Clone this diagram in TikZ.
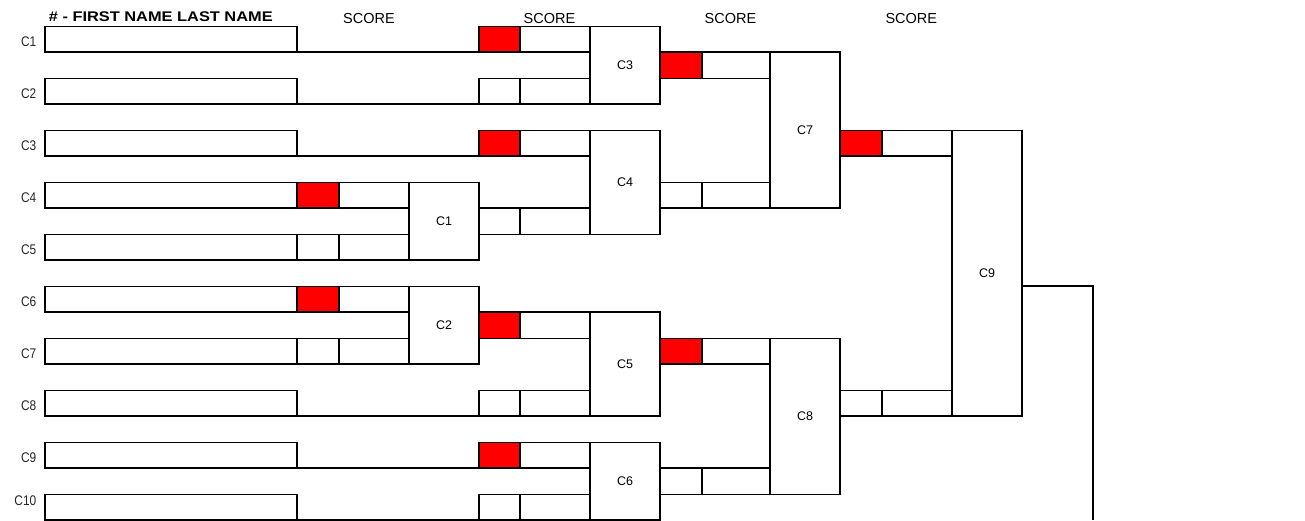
\documentclass[tikz,border=0pt]{standalone}
\usepackage{fontspec}
\setmainfont{Liberation Sans}
\newfontfamily\narrowsans[FakeStretch=0.85]{Liberation Sans}
\newfontfamily\widesans[FakeStretch=1.17]{Liberation Sans}
\tikzset{
  cell/.style={draw, line width=1.2pt, inner sep=0pt, outer sep=0pt, anchor=north west, fill=white},
  win/.style={cell, fill=red},
  match/.style={cell, font=\fontsize{12.5}{14}\selectfont},
  scoreline/.style={line width=2pt},
  outline/.style={line width=2pt},
  hdr/.style={anchor=base, font=\fontsize{14.5}{16}\selectfont},
  hdrb/.style={anchor=base, font=\widesans\bfseries\fontsize{14}{16}\selectfont},
  rowlab/.style={anchor=base east, inner sep=0pt, text=black!85, font=\narrowsans\fontsize{14}{16}\selectfont},
}
% style, name, x1, y1, x2, y2, text
\newcommand\cellnode[7]{%
  \node[#1, minimum width={(#5-#3)*1pt}, minimum height={(#6-#4)*1pt}] (#2) at (#3,#4) {#7};}
\begin{document}
\begin{tikzpicture}[x=1pt,y=-1pt]
\useasboundingbox (0,0) rectangle (1305,520);

% headers
\node[hdrb] (h0) at (160.8,21.7) {\# - FIRST NAME LAST NAME};
\node[hdr] (h1) at (369,23.3) {SCORE};
\node[hdr] (h2) at (549.5,23.3) {SCORE};
\node[hdr] (h3) at (730.4,23.3) {SCORE};
\node[hdr] (h4) at (911.3,23.3) {SCORE};

% row labels
\node[rowlab] (l1) at (36.5,46.7) {C1};
\node[rowlab] (l2) at (36.5,98.7) {C2};
\node[rowlab] (l3) at (36.5,150.7) {C3};
\node[rowlab] (l4) at (36.5,202.7) {C4};
\node[rowlab] (l5) at (36.5,254.7) {C5};
\node[rowlab] (l6) at (36.5,306.7) {C6};
\node[rowlab] (l7) at (36.5,358.7) {C7};
\node[rowlab] (l8) at (36.5,410.7) {C8};
\node[rowlab] (l9) at (36.5,462.7) {C9};
\node[rowlab] (l10) at (36.5,505) {C10};

% name boxes
\cellnode{cell}{n1}{45}{26.5}{297}{52}{}
\cellnode{cell}{n2}{45}{78.5}{297}{104}{}
\cellnode{cell}{n3}{45}{130.5}{297}{156}{}
\cellnode{cell}{n4}{45}{182.5}{297}{208}{}
\cellnode{cell}{n5}{45}{234.5}{297}{260}{}
\cellnode{cell}{n6}{45}{286.5}{297}{312}{}
\cellnode{cell}{n7}{45}{338.5}{297}{364}{}
\cellnode{cell}{n8}{45}{390.5}{297}{416}{}
\cellnode{cell}{n9}{45}{442.5}{297}{468}{}
\cellnode{cell}{n10}{45}{494.5}{297}{520}{}

% round 1
\cellnode{win}{r1a}{297}{182.5}{339}{208}{}
\cellnode{cell}{r1aw}{339}{182.5}{409}{208}{}
\cellnode{cell}{r1b}{297}{234.5}{339}{260}{}
\cellnode{cell}{r1bw}{339}{234.5}{409}{260}{}
\cellnode{match}{m1}{409}{182.5}{479}{260}{C1}

\cellnode{win}{r2a}{297}{286.5}{339}{312}{}
\cellnode{cell}{r2aw}{339}{286.5}{409}{312}{}
\cellnode{cell}{r2b}{297}{338.5}{339}{364}{}
\cellnode{cell}{r2bw}{339}{338.5}{409}{364}{}
\cellnode{match}{m2}{409}{286.5}{479}{364}{C2}

% round 2
\cellnode{win}{s3a}{479}{26.5}{520}{52}{}
\cellnode{cell}{s3aw}{520}{26.5}{590}{52}{}
\cellnode{cell}{s3b}{479}{78.5}{520}{104}{}
\cellnode{cell}{s3bw}{520}{78.5}{590}{104}{}
\cellnode{match}{m3}{590}{26.5}{660}{104}{C3}

\cellnode{win}{s4a}{479}{130.5}{520}{156}{}
\cellnode{cell}{s4aw}{520}{130.5}{590}{156}{}
\cellnode{cell}{s4b}{479}{208}{520}{234.5}{}
\cellnode{cell}{s4bw}{520}{208}{590}{234.5}{}
\cellnode{match}{m4}{590}{130.5}{660}{234.5}{C4}

\cellnode{win}{s5a}{479}{312}{520}{338.5}{}
\cellnode{cell}{s5aw}{520}{312}{590}{338.5}{}
\cellnode{cell}{s5b}{479}{390.5}{520}{416}{}
\cellnode{cell}{s5bw}{520}{390.5}{590}{416}{}
\cellnode{match}{m5}{590}{312}{660}{416}{C5}

\cellnode{win}{s6a}{479}{442.5}{520}{468}{}
\cellnode{cell}{s6aw}{520}{442.5}{590}{468}{}
\cellnode{cell}{s6b}{479}{494.5}{520}{520}{}
\cellnode{cell}{s6bw}{520}{494.5}{590}{520}{}
\cellnode{match}{m6}{590}{442.5}{660}{520}{C6}

% round 3
\cellnode{win}{s7a}{660}{52}{702}{78.5}{}
\cellnode{cell}{s7aw}{702}{52}{770}{78.5}{}
\cellnode{cell}{s7b}{660}{182.5}{702}{208}{}
\cellnode{cell}{s7bw}{702}{182.5}{770}{208}{}
\cellnode{match}{m7}{770}{52}{840}{208}{C7}

\cellnode{win}{s8a}{660}{338.5}{702}{364}{}
\cellnode{cell}{s8aw}{702}{338.5}{770}{364}{}
\cellnode{cell}{s8b}{660}{468}{702}{494.5}{}
\cellnode{cell}{s8bw}{702}{468}{770}{494.5}{}
\cellnode{match}{m8}{770}{338.5}{840}{494.5}{C8}

% round 4
\cellnode{win}{s9a}{840}{130.5}{882}{156}{}
\cellnode{cell}{s9aw}{882}{130.5}{952}{156}{}
\cellnode{cell}{s9b}{840}{390.5}{882}{416}{}
\cellnode{cell}{s9bw}{882}{390.5}{952}{416}{}
\cellnode{match}{m9}{952}{130.5}{1022}{416}{C9}

% score lines for byes
\draw[scoreline] (n1.south east) -- (s3a.south west);
\draw[scoreline] (n2.south east) -- (s3b.south west);
\draw[scoreline] (n3.south east) -- (s4a.south west);
\draw[scoreline] (n8.south east) -- (s5b.south west);
\draw[scoreline] (n9.south east) -- (s6a.south west);
\draw[scoreline] (n10.south east) -- (s6b.south west);

% champion line
\coordinate (o1) at (1093,286);
\coordinate (o2) at (1093,520);
\draw[outline] (m9.east |- o1) -- (o1) -- (o2);
\end{tikzpicture}
\end{document}
